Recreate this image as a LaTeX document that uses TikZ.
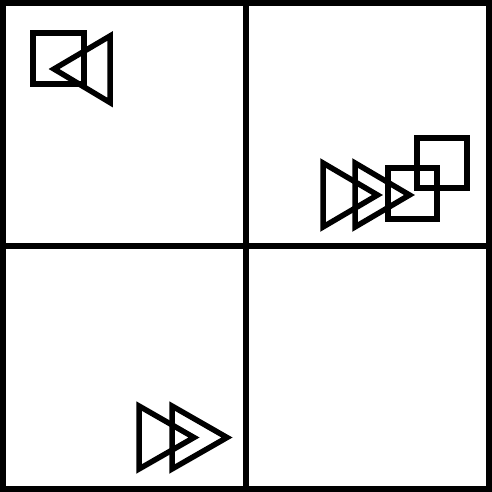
\documentclass[tikz,border=0pt]{standalone}
\begin{document}
\begin{tikzpicture}[x=1pt,y=-1pt,line width=5.5pt,
  outline/.style={draw=black,line width=5.5pt,miter limit=10}]
\useasboundingbox (0,0) rectangle (492,492);
% grid
\draw[outline] (3,3) rectangle (489,489);
\draw[outline] (246,3) -- (246,489);
\draw[outline] (3,246) -- (489,246);
% top-left
\draw[outline] (33,33) rectangle (84,84);
\draw[outline] (54,69) -- (110,36) -- (110,102.5) -- cycle;
% top-right
\draw[outline] (323,163) -- (377.5,195) -- (323,227) -- cycle;
\draw[outline] (355,163) -- (409.5,195) -- (355,227) -- cycle;
\draw[outline] (388,168) rectangle (437,219);
\draw[outline] (417,138) rectangle (467,188);
% bottom-left
\draw[outline] (139,406) -- (194,437.5) -- (139,469) -- cycle;
\draw[outline] (172,406) -- (227,437.5) -- (172,469) -- cycle;
\end{tikzpicture}
\end{document}
